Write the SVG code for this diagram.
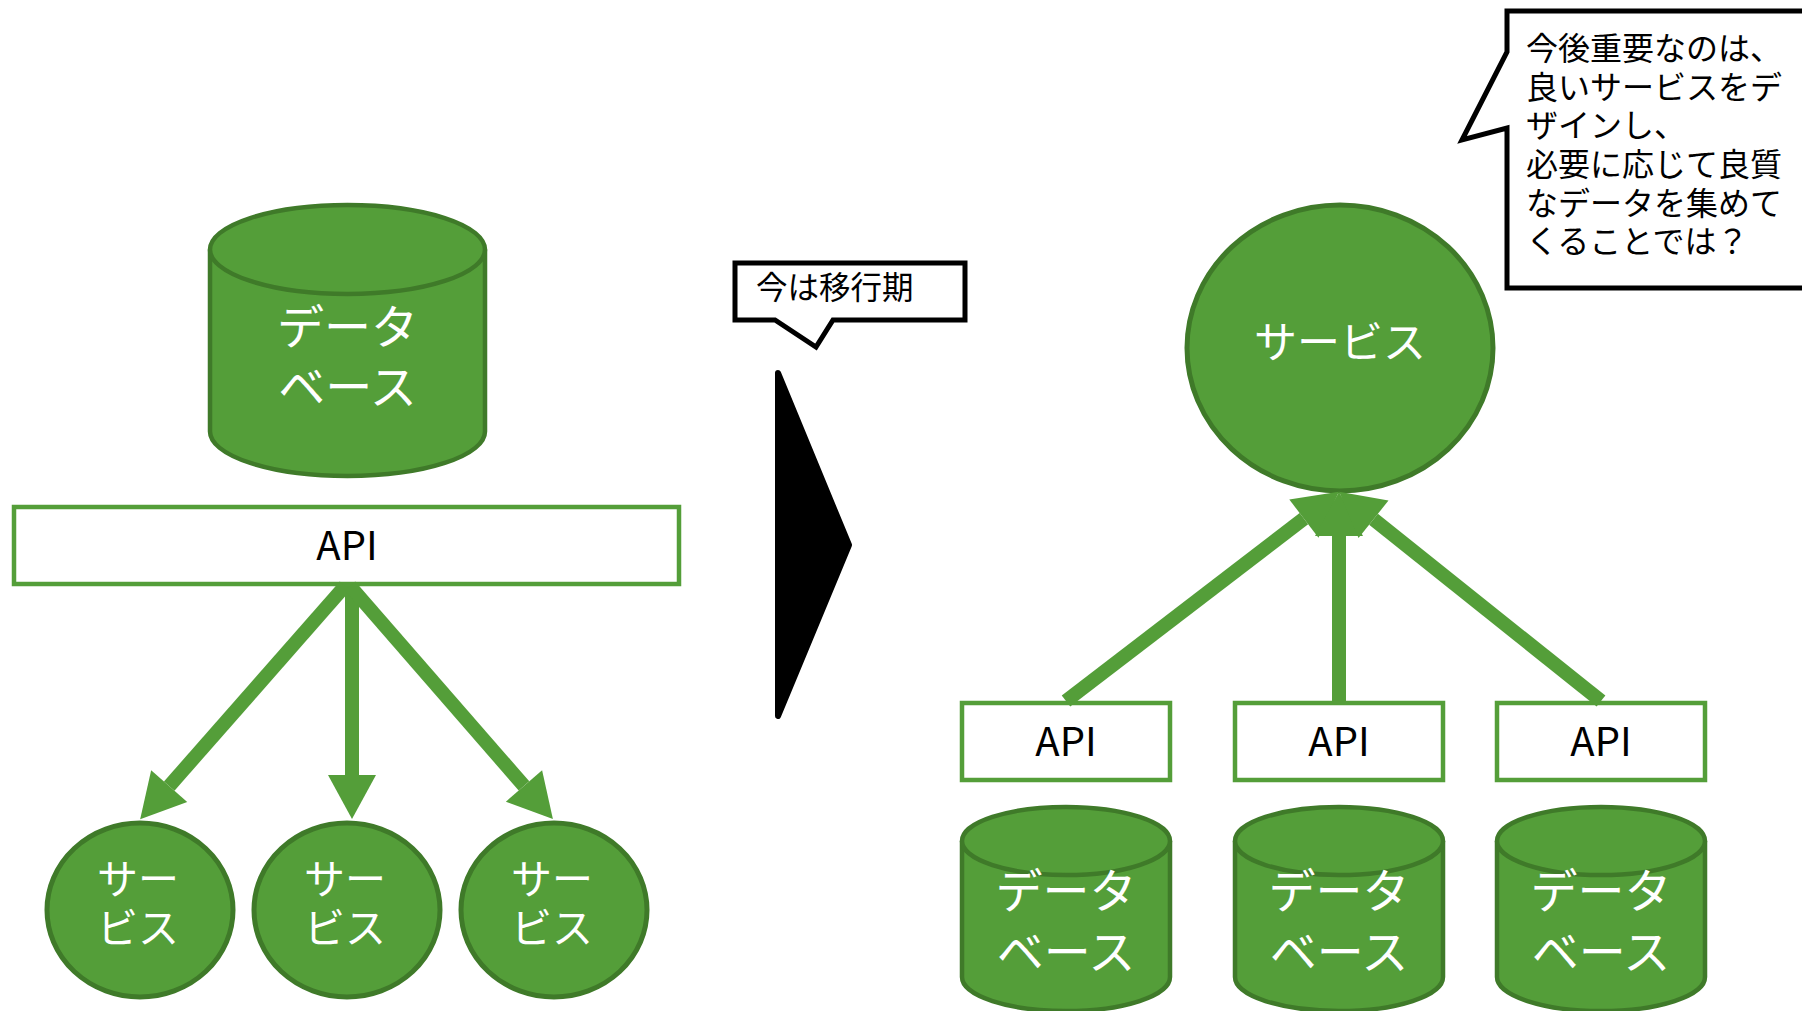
<svg xmlns="http://www.w3.org/2000/svg" width="1802" height="1011" viewBox="0 0 1802 1011">
  <style>
    .db { fill: #549E39; stroke: #3F7A29; stroke-width: 4.5; }
    .svc { fill: #549E39; stroke: #3F7A29; stroke-width: 5; }
    .api { fill: #FFFFFF; stroke: #549E39; stroke-width: 4.5; }
    .wlabel { font-family: "Noto Sans CJK JP", "Noto Sans", sans-serif; fill: #FFFFFF; text-anchor: middle; }
    .blabel { font-family: "Noto Sans CJK JP", "Noto Sans", sans-serif; fill: #000000; }
    .apitext { font-family: "Noto Sans CJK JP", "Noto Sans", sans-serif; fill: #000000; font-size: 40px; text-anchor: middle; }
    .link { fill: none; stroke: #549E39; stroke-width: 14; marker-end: url(#head); }
    .bubble { fill: #FFFFFF; stroke: #000000; stroke-width: 5; stroke-linejoin: miter; }
  </style>
  <defs>
    <marker id="head" markerUnits="userSpaceOnUse" markerWidth="46" markerHeight="48" refX="0" refY="24" orient="auto" overflow="visible">
      <path d="M0,0 L44,24 L0,48 Z" fill="#549E39"/>
    </marker>
  </defs>

  <rect width="1802" height="1011" fill="#FFFFFF"/>

  <!-- left: single database behind one API -->
  <g id="db-main">
    <path class="db" d="M210,249.5 L210,431.5 A137.5,44.5 0 0 0 485,431.5 L485,249.5"/>
    <ellipse class="db" cx="347.5" cy="249.5" rx="137.5" ry="44.5"/>
    <text class="wlabel" font-size="47"><tspan x="347.5" y="344">データ</tspan><tspan x="347.5" y="404">ベース</tspan></text>
  </g>

  <g id="api-main">
    <rect class="api" x="14" y="507" width="665" height="77"/>
    <text class="apitext" x="347" y="560">API</text>
  </g>

  <g id="svc-left-1">
    <ellipse class="svc" cx="140" cy="910" rx="93" ry="87"/>
    <text class="wlabel" font-size="41"><tspan x="138" y="894">サー</tspan><tspan x="138" y="943">ビス</tspan></text>
  </g>
  <g id="svc-left-2">
    <ellipse class="svc" cx="347" cy="910" rx="93" ry="87"/>
    <text class="wlabel" font-size="41"><tspan x="345" y="894">サー</tspan><tspan x="345" y="943">ビス</tspan></text>
  </g>
  <g id="svc-left-3">
    <ellipse class="svc" cx="554" cy="910" rx="93" ry="87"/>
    <text class="wlabel" font-size="41"><tspan x="552" y="894">サー</tspan><tspan x="552" y="943">ビス</tspan></text>
  </g>

  <!-- transition chevron and its note -->
  <g id="chevron">
    <polygon points="778,373 849,545 778,716" fill="#000000" stroke="#000000" stroke-width="6" stroke-linejoin="round"/>
  </g>
  <g id="note-now">
    <path class="bubble" d="M735,263 L965,263 L965,320 L833,320 L816,347 L775,320 L735,320 Z"/>
    <text class="blabel" x="756" y="299" font-size="31.5">今は移行期</text>
  </g>

  <!-- right: one service fed by several APIs -->
  <g id="svc-main">
    <ellipse class="svc" cx="1340" cy="348" rx="153" ry="143"/>
    <text class="wlabel" x="1340" y="358" font-size="43">サービス</text>
  </g>

  <g id="api-1">
    <rect class="api" x="962" y="703" width="208" height="77"/>
    <text class="apitext" x="1066" y="756">API</text>
  </g>
  <g id="api-2">
    <rect class="api" x="1235" y="703" width="208" height="77"/>
    <text class="apitext" x="1339" y="756">API</text>
  </g>
  <g id="api-3">
    <rect class="api" x="1497" y="703" width="208" height="77"/>
    <text class="apitext" x="1601" y="756">API</text>
  </g>

  <g id="db-1">
    <path class="db" d="M962,841 L962,977 A104,34 0 0 0 1170,977 L1170,841"/>
    <ellipse class="db" cx="1066" cy="841" rx="104" ry="34"/>
    <text class="wlabel" font-size="47"><tspan x="1066" y="908">データ</tspan><tspan x="1066" y="969">ベース</tspan></text>
  </g>
  <g id="db-2">
    <path class="db" d="M1235,841 L1235,977 A104,34 0 0 0 1443,977 L1443,841"/>
    <ellipse class="db" cx="1339" cy="841" rx="104" ry="34"/>
    <text class="wlabel" font-size="47"><tspan x="1339" y="908">データ</tspan><tspan x="1339" y="969">ベース</tspan></text>
  </g>
  <g id="db-3">
    <path class="db" d="M1497,841 L1497,977 A104,34 0 0 0 1705,977 L1705,841"/>
    <ellipse class="db" cx="1601" cy="841" rx="104" ry="34"/>
    <text class="wlabel" font-size="47"><tspan x="1601" y="908">データ</tspan><tspan x="1601" y="969">ベース</tspan></text>
  </g>

  <g id="note-future">
    <path class="bubble" d="M1507,52 L1507,11 L1812,11 L1812,288 L1507,288 L1507,128 L1462,140 Z"/>
    <text class="blabel" font-size="32"><tspan x="1526" y="60">今後重要なのは、</tspan><tspan x="1526" y="99">良いサービスをデ</tspan><tspan x="1526" y="137">ザインし、</tspan><tspan x="1526" y="176">必要に応じて良質</tspan><tspan x="1526" y="215">なデータを集めて</tspan><tspan x="1526" y="253">くることでは？</tspan></text>
  </g>

  <!-- connectors -->
  <g id="connectors">
    <line class="link" x1="345" y1="586" x2="169.2" y2="786.1"/>
    <line class="link" x1="352" y1="586" x2="352" y2="775"/>
    <line class="link" x1="350" y1="586" x2="524" y2="785.9"/>
    <line class="link" x1="1066" y1="701" x2="1303.9" y2="518.6"/>
    <line class="link" x1="1339" y1="703" x2="1339" y2="536"/>
    <line class="link" x1="1601" y1="701" x2="1373.5" y2="519.3"/>
  </g>
</svg>
